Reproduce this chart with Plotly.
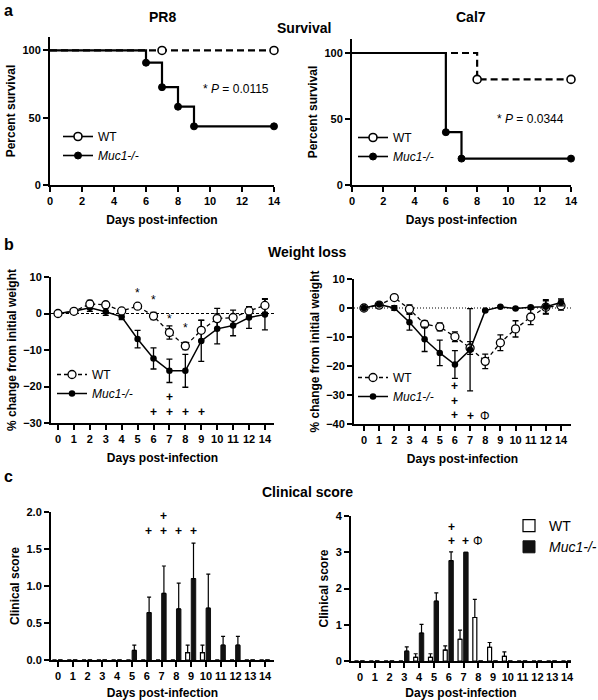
import plotly.graph_objects as go

W, H = 598, 700
FONT = "Liberation Sans, Arial, Helvetica, sans-serif"

# ---------------- data ----------------
# a: survival (Kaplan-Meier steps)
pr8_wt_t = [0, 7, 14]
pr8_wt_s = [100, 100, 100]
pr8_ko_t = [0, 6, 7, 8, 9, 14]
pr8_ko_s = [100, 90.9, 72.7, 58.2, 43.6, 43.6]
cal7_wt_t = [0, 8, 14]
cal7_wt_s = [100, 80, 80]
cal7_ko_t = [0, 6, 7, 14]
cal7_ko_s = [100, 40, 20, 20]
surv_ticks = [0, 2, 4, 6, 8, 10, 12, 14]

# b: weight loss
b_days = ["0", "1", "2", "3", "4", "5", "6", "7", "8", "9", "10", "11", "12", "14"]
pr8_wt_w = [0, 0.6, 2.6, 2.4, 0.7, 2.0, -0.7, -5.2, -8.9, -4.6, -1.4, -1.1, 0.7, 2.2]
pr8_wt_we = [0, 0.3, 1.0, 0.5, 0.6, 0.4, 1.0, 1.8, 1.0, 2.8, 2.8, 2.0, 1.1, 1.9]
pr8_ko_w = [0, 0.6, 1.6, 0.5, -0.9, -7.0, -12.3, -15.7, -15.7, -7.5, -4.2, -3.3, -1.1, -0.3]
pr8_ko_we = [0, 0.3, 1.0, 1.0, 0.8, 2.4, 2.9, 3.2, 4.5, 5.6, 4.1, 2.8, 3.0, 4.2]
cal_wt_w = [0, 1.0, 3.6, -0.4, -5.6, -6.5, -9.9, -13.8, -18.4, -12.0, -7.2, -3.1, 0.3, 0.8]
cal_wt_we = [0, 0.4, 0.6, 1.5, 1.2, 1.4, 1.7, 2.2, 2.5, 2.7, 2.8, 2.6, 2.2, 1.5]
cal_ko_w = [0, 1.2, 0, -4.9, -10.8, -15.5, -19.5, -14.4, -0.9, 0.4, -0.2, 0.3, 0.4, 1.9]
cal_ko_we = [0, 0.3, 0.8, 2.7, 4.2, 4.4, 4.8, 14.2, 0.3, 0.3, 0.3, 0.3, 2.5, 1.2]

# c: clinical score
c_days = ["0", "1", "2", "3", "4", "5", "6", "7", "8", "9", "10", "11", "12", "13", "14"]
pr8_wt_c = [0, 0, 0, 0, 0, 0, 0, 0, 0, 0.1, 0.1, 0, 0, 0, 0]
pr8_wt_ce = [0, 0, 0, 0, 0, 0, 0, 0, 0, 0.1, 0.1, 0, 0, 0, 0]
pr8_ko_c = [0, 0, 0, 0, 0, 0.13, 0.64, 0.9, 0.69, 1.1, 0.7, 0.2, 0.2, 0, 0]
pr8_ko_ce = [0, 0, 0, 0, 0, 0.07, 0.21, 0.37, 0.35, 0.48, 0.46, 0.12, 0.12, 0, 0]
cal_wt_c = [0, 0, 0, 0, 0.1, 0.1, 0.3, 0.6, 1.2, 0.38, 0.13, 0, 0, 0, 0]
cal_wt_ce = [0, 0, 0, 0, 0.1, 0.1, 0.12, 0.25, 0.5, 0.13, 0.12, 0, 0, 0, 0]
cal_ko_c = [0, 0, 0, 0.27, 0.77, 1.65, 2.77, 3.0, 0, 0, 0, 0, 0, 0, 0]
cal_ko_ce = [0, 0, 0, 0.12, 0.24, 0.23, 0.24, 0, 0, 0, 0, 0, 0, 0, 0]

# significance marks: (day, y, text, xshift)
sig_b_left = [("5", 5.5, "*", 0), ("6", 3.6, "*", 0), ("7", -1.4, "*", 0), ("8", -4.1, "*", 0),
              ("6", -27.1, "+", 0), ("7", -27.1, "+", 0), ("8", -27.1, "+", 0), ("9", -27.1, "+", 0),
              ("7", -23.0, "+", 0)]
sig_b_right = [("6", -27.0, "+", 0), ("6", -32.0, "+", 0), ("6", -36.8, "+", 0),
               ("7", -37.1, "+", 0), ("8", -37.1, "Φ", 0)]
sig_c_left = [("6", 1.74, "+", 2), ("7", 1.74, "+", 2), ("8", 1.74, "+", 2), ("9", 1.74, "+", 2),
              ("7", 1.94, "+", 2)]
sig_c_right = [("6", 4.1, "+", 3), ("6", 3.69, "+", 3), ("6", 3.31, "+", 3),
               ("7", 3.31, "+", 2), ("7", 3.31, "Φ", 14)]

# ---------------- helpers ----------------
def xdom(l, r):
    return [l / W, r / W]

def ydom(t, b):
    return [1 - b / H, 1 - t / H]

tickfont = dict(family=FONT, size=11, color="black", weight="bold")
titlefont = dict(family=FONT, size=12, color="black", weight="bold")

def axis(**kw):
    d = dict(showline=True, linecolor="black", linewidth=2, ticks="outside", ticklen=5,
             tickwidth=1.6, tickcolor="black", showgrid=False, zeroline=False,
             tickfont=tickfont, fixedrange=True, automargin=False, tickangle=0)
    d.update(kw)
    return d

fig = go.Figure()

WT_OPEN = dict(symbol="circle", size=8, color="white", line=dict(color="black", width=1.6))
KO_FILL = dict(symbol="circle", size=7, color="black", line=dict(color="black", width=1))

# ---------- a: survival ----------
def survival(xa, ya, leg, wt_t, wt_s, ko_t, ko_s):
    fig.add_trace(go.Scatter(x=wt_t, y=wt_s, mode="lines", xaxis=xa, yaxis=ya,
                             line=dict(shape="hv", dash="7px,4px", width=2.2, color="black"),
                             showlegend=False, hoverinfo="skip"))
    fig.add_trace(go.Scatter(x=ko_t, y=ko_s, mode="lines", xaxis=xa, yaxis=ya,
                             line=dict(shape="hv", width=2.2, color="black"),
                             showlegend=False, hoverinfo="skip"))
    fig.add_trace(go.Scatter(x=wt_t[1:], y=wt_s[1:], mode="markers", xaxis=xa, yaxis=ya,
                             marker=WT_OPEN, cliponaxis=False, showlegend=False, hoverinfo="skip"))
    fig.add_trace(go.Scatter(x=ko_t[1:], y=ko_s[1:], mode="markers", xaxis=xa, yaxis=ya,
                             marker=KO_FILL, cliponaxis=False, showlegend=False, hoverinfo="skip"))
    fig.add_trace(go.Scatter(x=[None], y=[None], mode="lines+markers", name="WT", xaxis=xa, yaxis=ya,
                             line=dict(width=1.6, color="black"), marker=WT_OPEN, legend=leg))
    fig.add_trace(go.Scatter(x=[None], y=[None], mode="lines+markers", name="<i>Muc1-/-</i>",
                             xaxis=xa, yaxis=ya, line=dict(width=1.6, color="black"),
                             marker=KO_FILL, legend=leg))

survival("x", "y", "legend", pr8_wt_t, pr8_wt_s, pr8_ko_t, pr8_ko_s)
survival("x2", "y2", "legend2", cal7_wt_t, cal7_wt_s, cal7_ko_t, cal7_ko_s)

# ---------- b: weight ----------
WT_OPEN_B = dict(symbol="circle", size=8, color="white", line=dict(color="black", width=1.3))
KO_FILL_B = dict(symbol="circle", size=6.5, color="black")

def ERR(e):
    return dict(type="data", array=e, visible=True, color="black", thickness=1.3, width=3)

def weight(xa, ya, leg, wt, wte, ko, koe, ko_on_top):
    wt_tr = go.Scatter(x=b_days, y=wt, mode="lines+markers", xaxis=xa, yaxis=ya,
                       line=dict(dash="4px,3px", width=1.3, color="black"), marker=WT_OPEN_B,
                       error_y=ERR(wte), showlegend=False, hoverinfo="skip", cliponaxis=False)
    ko_tr = go.Scatter(x=b_days, y=ko, mode="lines+markers", xaxis=xa, yaxis=ya,
                       line=dict(width=1.5, color="black"), marker=KO_FILL_B,
                       error_y=ERR(koe), showlegend=False, hoverinfo="skip", cliponaxis=False)
    if ko_on_top:
        fig.add_trace(wt_tr); fig.add_trace(ko_tr)
    else:
        fig.add_trace(ko_tr); fig.add_trace(wt_tr)
    fig.add_trace(go.Scatter(x=[None], y=[None], mode="lines+markers", name="WT", xaxis=xa, yaxis=ya,
                             line=dict(dash="4px,3px", width=1.3, color="black"), marker=WT_OPEN_B,
                             legend=leg))
    fig.add_trace(go.Scatter(x=[None], y=[None], mode="lines+markers", name="<i>Muc1-/-</i>",
                             xaxis=xa, yaxis=ya, line=dict(width=1.5, color="black"),
                             marker=KO_FILL_B, legend=leg))

weight("x3", "y3", "legend3", pr8_wt_w, pr8_wt_we, pr8_ko_w, pr8_ko_we, False)
weight("x4", "y4", "legend4", cal_wt_w, cal_wt_we, cal_ko_w, cal_ko_we, True)

# ---------- c: clinical score ----------
def BERR(e):
    return dict(type="data", array=e, arrayminus=[0] * len(e), symmetric=False,
                visible=True, color="black", thickness=1.2, width=2)

def clinical(xa, ya, wt, wte, ko, koe, show):
    fig.add_trace(go.Bar(x=c_days, y=wt, xaxis=xa, yaxis=ya, name="WT",
                         marker=dict(color="white", line=dict(color="black", width=1.2)),
                         width=0.27, offset=-0.37, error_y=BERR(wte),
                         showlegend=show, legend="legend5", hoverinfo="skip"))
    fig.add_trace(go.Bar(x=c_days, y=ko, xaxis=xa, yaxis=ya, name="<i>Muc1-/-</i>",
                         marker=dict(color="#111111", line=dict(color="#111111", width=1)),
                         width=0.3, offset=0.01, error_y=BERR(koe),
                         showlegend=show, legend="legend5", hoverinfo="skip"))

clinical("x5", "y5", pr8_wt_c, pr8_wt_ce, pr8_ko_c, pr8_ko_ce, False)
clinical("x6", "y6", cal_wt_c, cal_wt_ce, cal_ko_c, cal_ko_ce, True)

# ---------------- layout ----------------
days_title = dict(text="Days post-infection", font=titlefont, standoff=9)

def ytitle(s):
    return dict(text=s, font=titlefont, standoff=4)

layout = dict(
    width=W, height=H, margin=dict(l=0, r=0, t=0, b=0, autoexpand=False),
    paper_bgcolor="white", plot_bgcolor="white",
    font=dict(family=FONT, color="black"),
    barmode="overlay",
    # a
    xaxis=axis(domain=xdom(50, 274), range=[0, 14], tickvals=surv_ticks, anchor="y", title=days_title),
    yaxis=axis(domain=ydom(37, 185), range=[0, 110], tickvals=[0, 50, 100], anchor="x",
               title=ytitle("Percent survival")),
    xaxis2=axis(domain=xdom(352, 571), range=[0, 14], tickvals=surv_ticks, anchor="y2", title=days_title),
    yaxis2=axis(domain=ydom(39, 185), range=[0, 110.6], tickvals=[0, 50, 100], anchor="x2",
                title=ytitle("Percent survival")),
    # b
    xaxis3=axis(domain=xdom(51, 274), type="category", categoryorder="array", categoryarray=b_days,
                range=[-0.44, 13.57], anchor="y3", title=days_title),
    yaxis3=axis(domain=ydom(277, 423), range=[-30, 10], tickvals=[-30, -20, -10, 0, 10], anchor="x3",
                title=ytitle("% change from initial weight")),
    xaxis4=axis(domain=xdom(354, 571), type="category", categoryorder="array", categoryarray=b_days,
                range=[-0.66, 13.66], anchor="y4", title=days_title),
    yaxis4=axis(domain=ydom(279, 424), range=[-40, 10], tickvals=[-40, -30, -20, -10, 0, 10], anchor="x4",
                title=ytitle("% change from initial weight")),
    # c
    xaxis5=axis(domain=xdom(51, 274), type="category", categoryorder="array", categoryarray=c_days,
                range=[-0.47, 14.6], anchor="y5", title=days_title),
    yaxis5=axis(domain=ydom(512, 660), range=[0, 2], tickvals=[0, 0.5, 1, 1.5, 2], tickformat=".1f",
                anchor="x5", title=ytitle("Clinical score")),
    xaxis6=axis(domain=xdom(351, 571), type="category", categoryorder="array", categoryarray=c_days,
                range=[-0.61, 14.27], anchor="y6", title=days_title),
    yaxis6=axis(domain=ydom(516, 661), range=[0, 4], tickvals=[0, 1, 2, 3, 4], anchor="x6",
                title=ytitle("Clinical score")),
)

def leg(x, ytop, size=12):
    return dict(x=x / W, y=1 - ytop / H, xanchor="left", yanchor="top", bgcolor="rgba(0,0,0,0)",
                font=dict(family=FONT, size=size, color="black"), itemwidth=30,
                tracegroupgap=0, borderwidth=0)

layout["legend"] = leg(58, 122)
layout["legend2"] = leg(353, 123)
layout["legend3"] = leg(52, 360)
layout["legend4"] = leg(353, 363)
layout["legend5"] = leg(509, 510, 14)
fig.update_layout(**layout)

# zero reference lines in b
fig.add_shape(type="line", xref="x3 domain", yref="y3", x0=0, x1=1, y0=0, y1=0,
              line=dict(color="black", width=1, dash="3px,2px"), layer="below")
fig.add_shape(type="line", xref="x4 domain", yref="y4", x0=0, x1=1, y0=0, y1=0,
              line=dict(color="black", width=1.2, dash="1px,2px"), layer="below")

# text annotations
def txt(x, y, s, size=14, xanchor="center"):
    fig.add_annotation(x=x / W, y=1 - y / H, xref="paper", yref="paper", text=s, showarrow=False,
                       xanchor=xanchor, yanchor="middle",
                       font=dict(family=FONT, size=size, color="black", weight="bold"))

txt(2, 11, "a", 16, xanchor="left")
txt(2, 245, "b", 16, xanchor="left")
txt(2, 476, "c", 16, xanchor="left")
txt(162, 17, "PR8", 14)
txt(471, 17, "Cal7", 14)
txt(304, 28, "Survival", 14)
txt(307, 252, "Weight loss", 14)
txt(307, 492, "Clinical score", 14)

fig.add_annotation(x=11.6, y=71, xref="x", yref="y", text="* <i>P</i> = 0.0115", showarrow=False,
                   font=dict(family=FONT, size=12, color="black"))
fig.add_annotation(x=11.4, y=50, xref="x2", yref="y2", text="* <i>P</i> = 0.0344", showarrow=False,
                   font=dict(family=FONT, size=12, color="black"))

def sig(marks, xa, ya):
    for d, yv, s, xs in marks:
        fig.add_annotation(x=d, y=yv, xref=xa, yref=ya, text=s, showarrow=False, xshift=xs,
                           font=dict(family=FONT, size=12, color="black",
                                     weight="bold" if s == "+" else "normal"))

sig(sig_b_left, "x3", "y3")
sig(sig_b_right, "x4", "y4")
sig(sig_c_left, "x5", "y5")
sig(sig_c_right, "x6", "y6")

fig.write_html("out.html", config={"displayModeBar": False},
               post_script="document.body.style.margin='0';document.body.style.padding='0';")
